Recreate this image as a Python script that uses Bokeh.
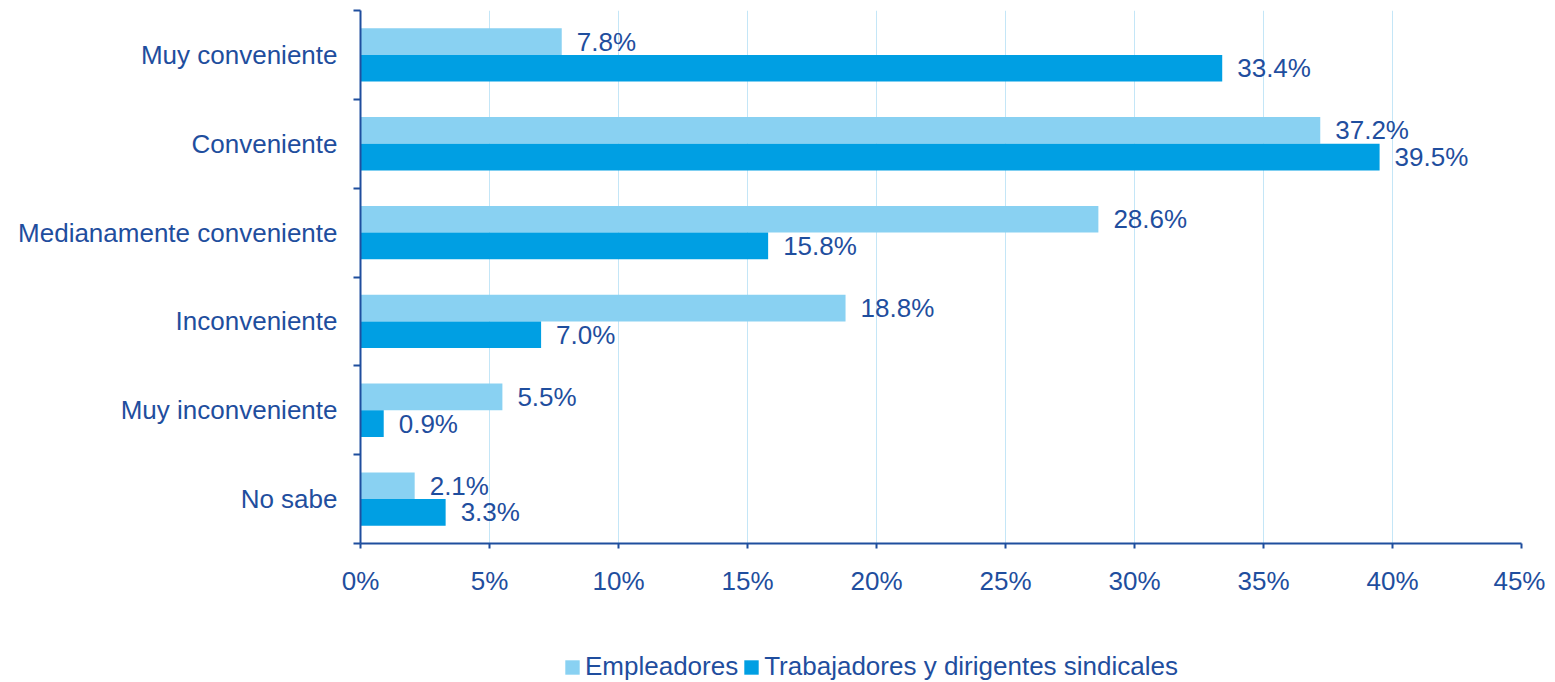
from bokeh.plotting import figure
from bokeh.layouts import column
from bokeh.models import ColumnDataSource, FixedTicker, Legend, LegendItem, Range1d
from bokeh.core.properties import value
from bokeh.embed import file_html
from bokeh.resources import INLINE

# Data (top to bottom)
categories = ["Muy conveniente", "Conveniente", "Medianamente conveniente",
              "Inconveniente", "Muy inconveniente", "No sabe"]
empleadores = [7.8, 37.2, 28.6, 18.8, 5.5, 2.1]
trabajadores = [33.4, 39.5, 15.8, 7.0, 0.9, 3.3]
x_ticks = [0, 5, 10, 15, 20, 25, 30, 35, 40, 45]
series_names = ["Empleadores", "Trabajadores y dirigentes sindicales"]

TEXT = "#1F4E9E"
LIGHT = "#89D1F2"
DARK = "#009FE3"
FONT = "Liberation Sans"
FS = "26px"

n = len(categories)
centers = [n - 1 - i + 0.5 for i in range(n)]
bar_h = 0.30

src_e = ColumnDataSource(dict(y=[c + bar_h / 2 for c in centers], v=empleadores,
                              lab=[f"{v:.1f}%" for v in empleadores]))
src_t = ColumnDataSource(dict(y=[c - bar_h / 2 for c in centers], v=trabajadores,
                              lab=[f"{v:.1f}%" for v in trabajadores]))

p = figure(width=1545, height=620, output_backend="svg", toolbar_location=None,
           x_range=Range1d(0, 45), y_range=Range1d(0, n),
           min_border_left=360, min_border_right=24, min_border_top=10, min_border_bottom=77)
p.outline_line_color = None
p.background_fill_color = "white"

p.hbar(y="y", left=0, right="v", height=bar_h, source=src_e, fill_color=LIGHT, line_color=None)
p.hbar(y="y", left=0, right="v", height=bar_h, source=src_t, fill_color=DARK, line_color=None)

for src in (src_e, src_t):
    p.text(x="v", y="y", text="lab", source=src, x_offset=15, text_baseline="middle",
           text_align="left", text_color=TEXT, text_font=value(FONT), text_font_size=FS)

# x axis
xa = p.xaxis[0]
xa.ticker = FixedTicker(ticks=x_ticks)
xa.major_label_overrides = {t: f"{t}%" for t in x_ticks}
xa.axis_line_color = TEXT
xa.axis_line_width = 2
xa.major_tick_line_color = TEXT
xa.major_tick_line_width = 2
xa.major_tick_out = 5
xa.major_tick_in = 0
xa.minor_tick_line_color = None
xa.major_label_text_color = TEXT
xa.major_label_text_font = FONT
xa.major_label_text_font_size = FS
xa.major_label_standoff = 17

# y axis
ya = p.yaxis[0]
ya.ticker = FixedTicker(ticks=centers, minor_ticks=list(range(n + 1)))
ya.major_label_overrides = {c: categories[i] for i, c in enumerate(centers)}
ya.axis_line_color = TEXT
ya.axis_line_width = 2
ya.major_tick_line_color = None
ya.major_tick_out = 0
ya.major_tick_in = 0
ya.minor_tick_line_color = TEXT
ya.minor_tick_line_width = 2
ya.minor_tick_out = 7
ya.minor_tick_in = 0
ya.major_label_text_color = TEXT
ya.major_label_text_font = FONT
ya.major_label_text_font_size = FS
ya.major_label_standoff = 16

p.xgrid.ticker = FixedTicker(ticks=x_ticks)
p.xgrid.grid_line_color = "#C4E6F7"
p.xgrid.grid_line_width = 1
p.ygrid.grid_line_color = None

# Legend in its own strip below the chart (its bars lie outside its visible range)
lf = figure(width=1545, height=62, output_backend="svg", toolbar_location=None,
            x_range=Range1d(0, 45), y_range=Range1d(100, 101),
            x_axis_type=None, y_axis_type=None,
            min_border_left=0, min_border_right=0, min_border_top=0, min_border_bottom=0)
lf.outline_line_color = None
lf.xgrid.grid_line_color = None
lf.ygrid.grid_line_color = None
e1 = lf.hbar(y="y", left=0, right="v", height=bar_h, source=src_e, fill_color=LIGHT, line_color=None)
e2 = lf.hbar(y="y", left=0, right="v", height=bar_h, source=src_t, fill_color=DARK, line_color=None)

legend = Legend(items=[LegendItem(label=series_names[0], renderers=[e1]),
                       LegendItem(label=series_names[1], renderers=[e2])],
                orientation="horizontal", location=(203, 0),
                label_text_font=FONT, label_text_font_size=FS, label_text_color=TEXT,
                glyph_width=18, glyph_height=18, spacing=4, label_standoff=4,
                border_line_color=None, background_fill_alpha=0, margin=0, padding=0)
lf.add_layout(legend, "center")

layout = column(p, lf, spacing=0)
open("out.html", "w").write(file_html(layout, INLINE))
